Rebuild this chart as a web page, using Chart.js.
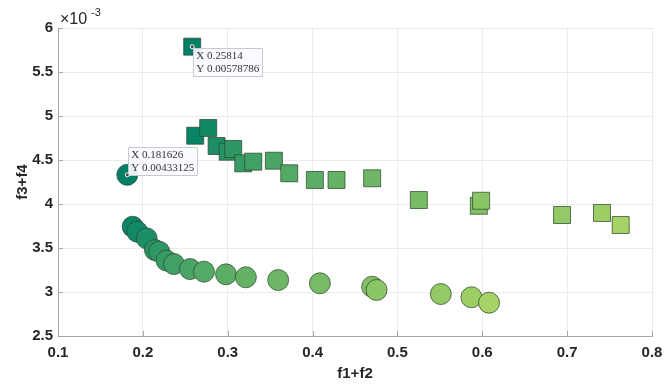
<!DOCTYPE html>
<html>
<head>
<meta charset="utf-8">
<script src="https://cdn.jsdelivr.net/npm/chart.js@4/dist/chart.umd.min.js"></script>
<style>
  html, body { margin: 0; padding: 0; background: #fff; }
  #wrap { width: 665px; height: 386px; }
</style>
</head>
<body>
<div id="wrap"><canvas id="myChart"></canvas></div>
<script>
// lower front (circles)
let circleX = [0.181626, 0.188, 0.1934, 0.2045, 0.2142, 0.2193, 0.228, 0.2366, 0.2555, 0.272,
    0.298, 0.3214, 0.3595, 0.4086, 0.4702, 0.4754, 0.5511, 0.5872, 0.608]
let circleY = [0.00433125, 0.003742, 0.003685, 0.00361, 0.003477, 0.003458, 0.003356, 0.003318, 0.003261, 0.003231,
    0.003201, 0.003167, 0.003136, 0.003099, 0.00306, 0.003023, 0.002977, 0.00294, 0.002878]

// upper front (squares)
let squareX = [0.25814, 0.2617, 0.277, 0.2869, 0.2999, 0.3065, 0.3183, 0.3301, 0.3544, 0.3725,
    0.4027, 0.4282, 0.4702, 0.5252, 0.5959, 0.5986, 0.694, 0.7411, 0.7631]
let squareY = [0.00578786, 0.004776, 0.004864, 0.004659, 0.004594, 0.004625, 0.004462, 0.004481, 0.004492, 0.004349,
    0.004273, 0.004273, 0.004292, 0.004045, 0.00398, 0.004037, 0.003875, 0.003898, 0.003761]

let xTicks = [0.1, 0.2, 0.3, 0.4, 0.5, 0.6, 0.7, 0.8]
let yTickLabels = ['2.5', '3', '3.5', '4', '4.5', '5', '5.5', '6']

// data tips: [dataset index, point index]
let tips = [[0, 0], [1, 0]]

const font = 'Liberation Sans, Arial, sans-serif'
const axisGray = '#a6a6a6'

// MATLAB "summer"-like colours by rank
function summer(i, n) {
    let t = 0.65 * i / (n - 1)
    return 'rgb(' + Math.round(255 * t) + ',' + Math.round(255 * (0.5 + 0.5 * t)) + ',102)'
}

function points(xs, ys) {
    return xs.map((x, i) => ({ x, y: ys[i] }))
}

const decorations = {
    id: 'decorations',
    afterDatasetsDraw(chart) {
        let { ctx, scales: { x, y } } = chart
        ctx.save()
        // inward ticks
        ctx.strokeStyle = axisGray
        ctx.lineWidth = 1
        ctx.beginPath()
        xTicks.forEach(v => {
            let px = Math.round(x.getPixelForValue(v)) + 0.5
            ctx.moveTo(px, y.bottom)
            ctx.lineTo(px, y.bottom - 5)
        })
        yTickLabels.forEach(l => {
            let py = Math.round(y.getPixelForValue(parseFloat(l) / 1000)) + 0.5
            ctx.moveTo(x.left, py)
            ctx.lineTo(x.left + 5, py)
        })
        ctx.stroke()

        // exponent label
        ctx.fillStyle = '#262626'
        ctx.textBaseline = 'middle'
        ctx.textAlign = 'left'
        ctx.font = '16px ' + font
        ctx.fillText('\u00d710', x.left + 2, 20)
        ctx.font = '11px ' + font
        ctx.fillText('-3', x.left + 33, 13)

        // data tips
        tips.forEach(([d, i], k) => {
            let p = chart.data.datasets[d].data[i]
            let px = x.getPixelForValue(p.x)
            let py = y.getPixelForValue(p.y)
            let lines = ['X ' + p.x, 'Y ' + p.y]
            ctx.font = '11px Liberation Serif, serif'
            let w = Math.max(...lines.map(s => ctx.measureText(s).width)) + 6
            let h = 28
            let bx = px + 1
            let by = k === 0 ? py - h : py + 1
            ctx.fillStyle = 'rgba(250,250,255,0.92)'
            ctx.strokeStyle = '#c9c9d6'
            ctx.beginPath()
            ctx.rect(Math.round(bx) + 0.5, Math.round(by) + 0.5, Math.round(w), h)
            ctx.fill()
            ctx.stroke()
            ctx.fillStyle = '#333'
            ctx.fillText(lines[0], bx + 3, by + 8)
            ctx.fillText(lines[1], bx + 3, by + 21)
            ctx.beginPath()
            ctx.arc(px, py, 2, 0, Math.PI * 2)
            ctx.fillStyle = '#444'
            ctx.strokeStyle = '#fff'
            ctx.fill()
            ctx.stroke()
        })
        ctx.restore()
    }
}

let ctx = document.getElementById('myChart')
let myChart = new Chart(ctx, {
    type: 'scatter',
    data: {
        datasets: [
            {
                label: 'circles',
                data: points(circleX, circleY),
                pointStyle: 'circle',
                pointRadius: 10.5,
                backgroundColor: c => summer(c.dataIndex, circleX.length),
                borderColor: 'rgba(45,75,45,0.75)',
                borderWidth: 1,
            },
            {
                label: 'squares',
                data: points(squareX, squareY),
                pointStyle: 'rect',
                pointRadius: 12,
                backgroundColor: c => summer(c.dataIndex, squareX.length),
                borderColor: 'rgba(45,75,45,0.75)',
                borderWidth: 1,
            }
        ]
    },
    options: {
        responsive: true,
        maintainAspectRatio: false,
        animation: false,
        events: [],
        layout: {
            padding: { top: 28, right: 13, left: 0, bottom: 0 }
        },
        plugins: {
            legend: { display: false },
            tooltip: { enabled: false },
        },
        scales: {
            x: {
                type: 'linear',
                min: 0.1,
                max: 0.8,
                afterBuildTicks: s => { s.ticks = xTicks.map(v => ({ value: v })) },
                afterFit: s => { s.height = 50; s.paddingLeft = 0; s.paddingRight = 0 },
                ticks: {
                    padding: 8,
                    color: '#262626',
                    font: { family: font, size: 15, weight: 'bold' },
                    callback: v => v.toFixed(1),
                },
                grid: { color: '#ebebeb', drawTicks: false },
                border: { color: axisGray },
                title: {
                    display: true,
                    text: 'f1+f2',
                    color: '#262626',
                    font: { family: font, size: 15, weight: 'bold', lineHeight: 1 },
                    padding: { top: 0, bottom: 5 },
                },
            },
            y: {
                type: 'linear',
                min: 0.0025,
                max: 0.006,
                afterBuildTicks: s => { s.ticks = yTickLabels.map(l => ({ value: parseFloat(l) / 1000 })) },
                afterFit: s => { s.width = 58; s.paddingTop = 0; s.paddingBottom = 0 },
                ticks: {
                    padding: 5,
                    color: '#262626',
                    font: { family: font, size: 15, weight: 'bold' },
                    callback: (v, i) => yTickLabels[i],
                },
                grid: { color: '#ebebeb', drawTicks: false },
                border: { color: axisGray },
                title: {
                    display: true,
                    text: 'f3+f4',
                    color: '#262626',
                    font: { family: font, size: 15, weight: 'bold', lineHeight: 1.2 },
                    padding: { top: 14, bottom: 0 },
                },
            }
        }
    },
    plugins: [decorations]
})
</script>
</body>
</html>
